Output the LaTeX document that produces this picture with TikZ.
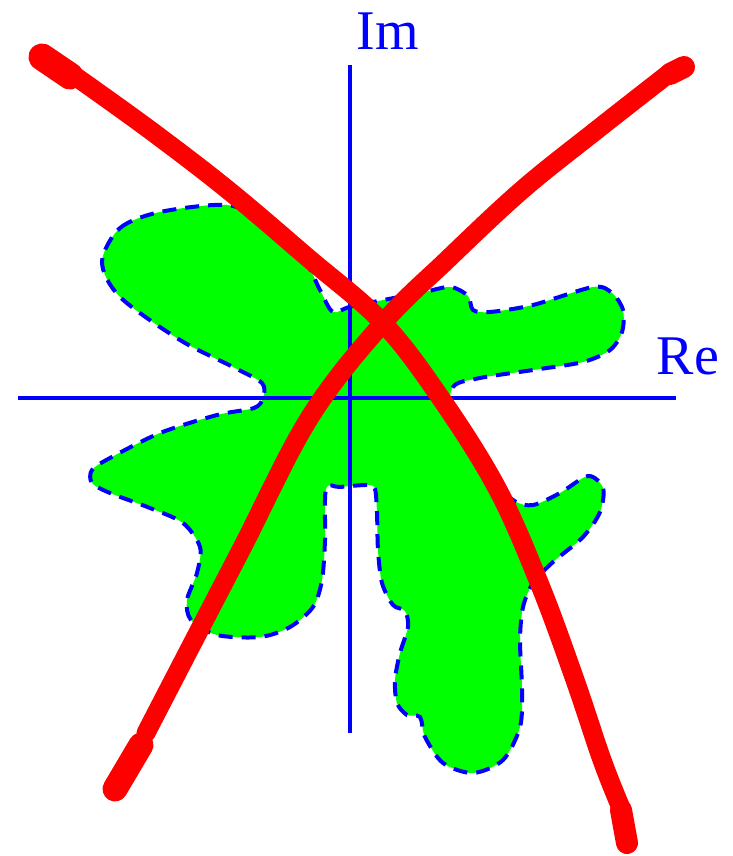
\documentclass[tikz,border=0pt]{standalone}
\usepackage{fontspec}
\setmainfont{Liberation Serif}
\definecolor{blobgreen}{RGB}{0, 255, 0}
\definecolor{axisblue}{RGB}{0, 0, 255}
\definecolor{crossred}{RGB}{255, 0, 0}

\begin{document}
\begin{tikzpicture}[x=1pt, y=-1pt]

  \tikzset{axis/.style={draw=axisblue, line width=4},
    rim/.style={draw=axisblue, line width=4, dash pattern=on 14pt off 9pt},
    crossline/.style={crossred, line width=19, line cap=round},
    crosstip/.style={crossred, line width=27, line cap=round},
    axlabel/.style={axisblue, font=\fontsize{56}{60}\selectfont, anchor=base, inner sep=0}}

  \useasboundingbox (0, 0) rectangle (732, 856);

  % the region
  \path[fill=blobgreen, rim] plot[smooth cycle, tension=0.5] coordinates {
    (102,262) (120,228) (160,212) (227,205) (265,222) (303,258) (320,290)
    (333,312) (353,306) (420,293) (450,287) (468,296) (473,310) (490,312)
    (533,305) (593,287) (612,293) (623,310) (622,332) (610,350) (583,362)
    (533,370) (480,378) (453,387) (452,420) (485,470) (513,500) (533,505)
    (560,493) (588,476) (603,488) (600,512) (583,537) (553,562) (533,583)
    (523,607) (520,640) (522,690) (520,727) (503,760) (473,773) (443,763)
    (425,737) (420,717) (407,715) (397,703) (395,680) (400,653) (408,627)
    (405,611) (393,605) (382,583) (378,550) (377,513) (375,489) (368,485)
    (340,487) (326,489) (325,540) (322,580) (313,607) (290,627) (260,637)
    (217,635) (191,620) (187,600) (197,573) (200,547) (183,523) (150,508)
    (110,493) (92,483) (92,470) (110,458) (160,433) (217,415) (254,408)
    (263,398) (262,383) (233,367) (180,340) (120,297)};

  % axes
  \coordinate (west) at (18, 398);
  \coordinate (east) at (676, 398);
  \coordinate (south) at (350, 733);
  \coordinate (north) at (350, 65);
  \draw[axis] (west) -- (east);
  \draw[axis] (south) -- (north);

  \node[axlabel] (im) at (388, 50) {Im};
  \node[axlabel] (re) at (688, 374) {Re};

  % the two curves
  \draw[crossline] plot[smooth, tension=0.6] coordinates {
    (72,74) (150,130) (228,190) (307,257) (383,323) (442,400)
    (498,490) (540,585) (575,680) (602,760) (621,808)};
  \draw[crossline] plot[smooth, tension=0.6] coordinates {
    (146,733) (190,648) (242,548) (310,417) (383,323) (447,260)
    (522,190) (598,129) (667,75)};

  \draw[crosstip] (42, 57) -- (70, 76);
  \draw[crosstip, line width=22] (670, 74) -- (684, 67);
  \draw[crosstip, line width=25] (141, 745) -- (115, 789);
  \draw[crosstip, line width=22] (621, 810) -- (627, 843);

\end{tikzpicture}
\end{document}
